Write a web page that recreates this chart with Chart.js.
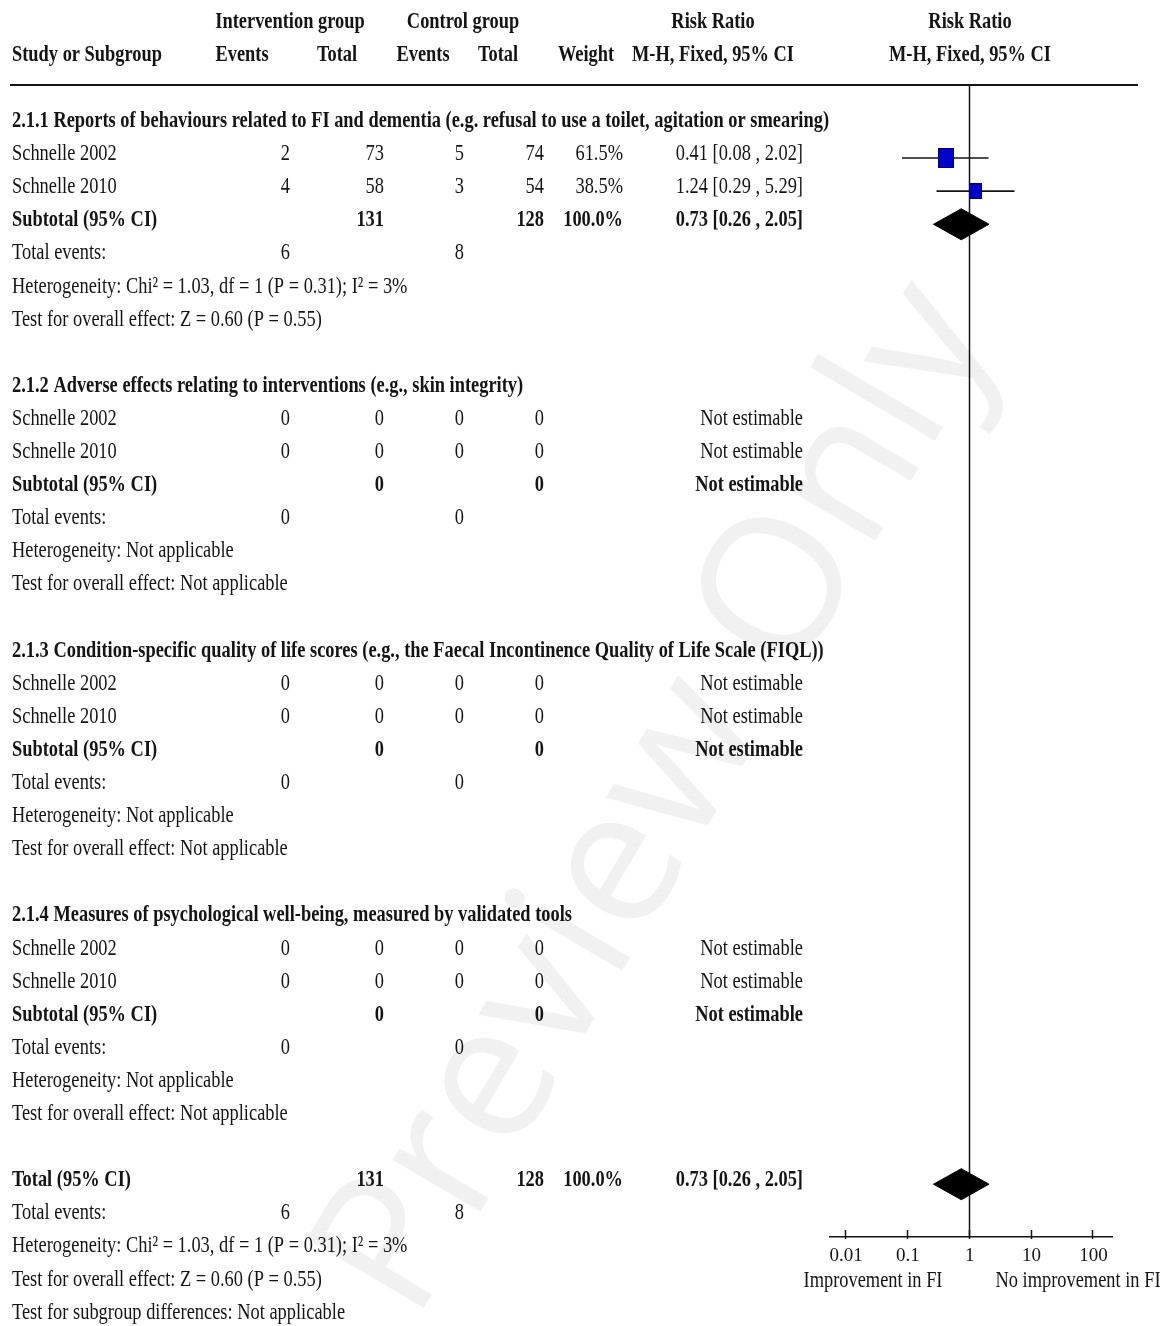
<!DOCTYPE html>
<html>
<head>
<meta charset="utf-8">
<title>Forest plot – Risk Ratio, M-H, Fixed</title>
<script src="https://cdn.jsdelivr.net/npm/chart.js@4.4.1/dist/chart.umd.min.js"></script>
<style>
  html, body { margin: 0; padding: 0; background: #ffffff; }
  canvas { display: block; }
</style>
</head>
<body>
<canvas id="forest" width="1170" height="1326"></canvas>
<script>
// ---- table content ----
const subgroupTitles = [
  '2.1.1 Reports of behaviours related to FI and dementia (e.g. refusal to use a toilet, agitation or smearing)',
  '2.1.2 Adverse effects relating to interventions (e.g., skin integrity)',
  '2.1.3 Condition-specific quality of life scores (e.g., the Faecal Incontinence Quality of Life Scale (FIQL))',
  '2.1.4 Measures of psychological well-being, measured by validated tools'
];
const studyNames = ['Schnelle 2002', 'Schnelle 2010'];

const interventionEvents = [[2, 4], [0, 0], [0, 0], [0, 0]];
const interventionTotals = [[73, 58], [0, 0], [0, 0], [0, 0]];
const controlEvents      = [[5, 3], [0, 0], [0, 0], [0, 0]];
const controlTotals      = [[74, 54], [0, 0], [0, 0], [0, 0]];

const studyWeights = [[61.5, 38.5], [null, null], [null, null], [null, null]];
const studyRR      = [[0.41, 1.24], [null, null], [null, null], [null, null]];
const studyLower   = [[0.08, 0.29], [null, null], [null, null], [null, null]];
const studyUpper   = [[2.02, 5.29], [null, null], [null, null], [null, null]];

const subtotalWeight = [100.0, null, null, null];
const subtotalRR     = [0.73, null, null, null];
const subtotalLower  = [0.26, null, null, null];
const subtotalUpper  = [2.05, null, null, null];

const heterogeneityText = [
  'Heterogeneity: Chi\u00b2 = 1.03, df = 1 (P = 0.31); I\u00b2 = 3%',
  'Heterogeneity: Not applicable',
  'Heterogeneity: Not applicable',
  'Heterogeneity: Not applicable'
];
const overallEffectText = [
  'Test for overall effect: Z = 0.60 (P = 0.55)',
  'Test for overall effect: Not applicable',
  'Test for overall effect: Not applicable',
  'Test for overall effect: Not applicable'
];

const totalWeight = [100.0];
const totalRR     = [0.73];
const totalLower  = [0.26];
const totalUpper  = [2.05];
const totalHeterogeneity = 'Heterogeneity: Chi\u00b2 = 1.03, df = 1 (P = 0.31); I\u00b2 = 3%';
const totalOverallEffect = 'Test for overall effect: Z = 0.60 (P = 0.55)';
const subgroupDifferences = 'Test for subgroup differences: Not applicable';

const axisTicks      = [0.01, 0.1, 1, 10, 100];
const axisTickLabels = ['0.01', '0.1', '1', '10', '100'];
const favoursLabels  = ['Improvement in FI', 'No improvement in FI'];

// ---- layout constants ----
const ROW0_PX = 121, ROW_STEP = 33.1, AREA_TOP = 85, AREA_BOTTOM = 1237;
const Y_MIN = (AREA_TOP - ROW0_PX) / ROW_STEP;
const Y_MAX = (AREA_BOTTOM - ROW0_PX) / ROW_STEP;
const MARK_SHIFT = 0.12;                 // marks sit a touch below the text centre
const DIAMOND_HALF = 15.5 / ROW_STEP;    // half height of the pooled diamonds
const FONT_SIZE = 23, SQUEEZE = 0.8;
const FONT_FAMILY = '"Liberation Serif", "Times New Roman", serif';
const INK = '#141414';

const sum = a => a.reduce((s, v) => s + v, 0);
const fmt2 = v => v.toFixed(2);
const ciText = (e, l, u) => `${fmt2(e)} [${fmt2(l)} , ${fmt2(u)}]`;

// blue study square, area proportional to weight
function squareFor(weight) {
  const w = Math.round(2.04 * Math.sqrt(weight));
  const h = Math.round(w * 1.25);
  const c = document.createElement('canvas');
  c.width = w; c.height = h;
  const g = c.getContext('2d');
  g.fillStyle = '#0000c8';
  g.fillRect(0, 0, w, h);
  g.strokeStyle = '#00007a';
  g.lineWidth = 1;
  g.strokeRect(0.5, 0.5, w - 1, h - 1);
  return c;
}

function diamondDataset(est, lo, hi, row) {
  return {
    type: 'line',
    data: [
      { x: lo, y: row }, { x: est, y: row - DIAMOND_HALF },
      { x: hi, y: row }, { x: est, y: row + DIAMOND_HALF }, { x: lo, y: row }
    ],
    borderColor: '#000', backgroundColor: '#000', borderWidth: 1,
    fill: 'shape', pointRadius: 0, tension: 0, order: 0
  };
}

// ---- datasets ----
const datasets = [];
subgroupTitles.forEach((_, g) => {
  const base = g * 8;
  studyNames.forEach((_, i) => {
    if (studyRR[g][i] == null) return;
    const row = base + 1 + i + MARK_SHIFT;
    datasets.push({
      type: 'scatter',
      data: [{ x: studyRR[g][i], y: row }],
      pointStyle: squareFor(studyWeights[g][i]),
      pointRadius: 3, order: 0
    });
    datasets.push({
      type: 'line',
      data: [{ x: studyLower[g][i], y: row }, { x: studyUpper[g][i], y: row }],
      borderColor: INK, borderWidth: 1.6, pointRadius: 0, fill: false, order: 2
    });
  });
  if (subtotalRR[g] != null) {
    datasets.push(diamondDataset(subtotalRR[g], subtotalLower[g], subtotalUpper[g], base + 3 + MARK_SHIFT));
  }
});
datasets.push(diamondDataset(totalRR[0], totalLower[0], totalUpper[0], 32 + MARK_SHIFT));

// ---- text helper (narrow serif look) ----
function drawText(ctx, s, x, y, align, bold) {
  ctx.save();
  ctx.font = (bold ? 'bold ' : '') + FONT_SIZE + 'px ' + FONT_FAMILY;
  ctx.textBaseline = 'middle';
  ctx.textAlign = 'left';
  ctx.fillStyle = INK;
  const w = ctx.measureText(s).width * SQUEEZE;
  const left = align === 'left' ? x : align === 'right' ? x - w : x - w / 2;
  ctx.translate(left, y);
  ctx.scale(SQUEEZE, 1);
  ctx.fillText(s, 0, 0);
  ctx.restore();
}

const COL = { ie: 290, it: 384, ce: 464, ct: 544, wt: 623, ci: 803 };

const watermarkPlugin = {
  id: 'watermark',
  beforeDraw(chart) {
    const ctx = chart.ctx;
    ctx.save();
    ctx.fillStyle = '#ffffff';
    ctx.fillRect(0, 0, chart.width, chart.height);
    ctx.translate(660, 800);
    ctx.rotate(-59.5 * Math.PI / 180);
    ctx.font = '190px "Open Sans", "DejaVu Sans", sans-serif';
    ctx.fillStyle = '#f1f1f1';
    ctx.textAlign = 'center';
    ctx.textBaseline = 'middle';
    ctx.fillText('Preview Only', 0, 0);
    ctx.restore();
  }
};

const framePlugin = {
  id: 'frame',
  beforeDatasetsDraw(chart) {
    const { ctx, chartArea, scales: { x } } = chart;
    ctx.save();
    ctx.strokeStyle = INK;
    // header rule
    ctx.lineWidth = 2;
    ctx.beginPath();
    ctx.moveTo(10, chartArea.top);
    ctx.lineTo(1138, chartArea.top);
    ctx.stroke();
    // line of no effect
    const x1 = Math.round(x.getPixelForValue(1)) - 0.5;
    ctx.lineWidth = 1.5;
    ctx.beginPath();
    ctx.moveTo(x1, chartArea.top);
    ctx.lineTo(x1, chartArea.bottom);
    ctx.stroke();
    ctx.restore();
  },
  afterDraw(chart) {
    const { ctx, chartArea, scales: { x, y } } = chart;
    const py = r => y.getPixelForValue(r);

    // upward tick marks on the risk-ratio axis
    ctx.save();
    ctx.strokeStyle = INK;
    ctx.lineWidth = 1.5;
    axisTicks.forEach(v => {
      const px = Math.round(x.getPixelForValue(v)) - 0.5;
      ctx.beginPath();
      ctx.moveTo(px, chartArea.bottom - 7);
      ctx.lineTo(px, chartArea.bottom + 2);
      ctx.stroke();
    });
    ctx.restore();

    drawText(ctx, favoursLabels[0], chartArea.left + 43, 1281, 'center', false);
    drawText(ctx, favoursLabels[1], chartArea.right - 34, 1281, 'center', false);

    // column headings
    drawText(ctx, 'Intervention group', 290, py(-3), 'center', true);
    drawText(ctx, 'Control group', 463, py(-3), 'center', true);
    drawText(ctx, 'Risk Ratio', 713, py(-3), 'center', true);
    drawText(ctx, 'Risk Ratio', 970, py(-3), 'center', true);
    drawText(ctx, 'Study or Subgroup', 12, py(-2), 'left', true);
    drawText(ctx, 'Events', 242, py(-2), 'center', true);
    drawText(ctx, 'Total', 337, py(-2), 'center', true);
    drawText(ctx, 'Events', 423, py(-2), 'center', true);
    drawText(ctx, 'Total', 498, py(-2), 'center', true);
    drawText(ctx, 'Weight', 586, py(-2), 'center', true);
    drawText(ctx, 'M-H, Fixed, 95% CI', 713, py(-2), 'center', true);
    drawText(ctx, 'M-H, Fixed, 95% CI', 970, py(-2), 'center', true);

    // subgroup blocks
    subgroupTitles.forEach((title, g) => {
      const base = g * 8;
      drawText(ctx, title, 12, py(base), 'left', true);
      studyNames.forEach((name, i) => {
        const yy = py(base + 1 + i);
        drawText(ctx, name, 12, yy, 'left', false);
        drawText(ctx, String(interventionEvents[g][i]), COL.ie, yy, 'right', false);
        drawText(ctx, String(interventionTotals[g][i]), COL.it, yy, 'right', false);
        drawText(ctx, String(controlEvents[g][i]), COL.ce, yy, 'right', false);
        drawText(ctx, String(controlTotals[g][i]), COL.ct, yy, 'right', false);
        if (studyWeights[g][i] != null) {
          drawText(ctx, studyWeights[g][i].toFixed(1) + '%', COL.wt, yy, 'right', false);
          drawText(ctx, ciText(studyRR[g][i], studyLower[g][i], studyUpper[g][i]), COL.ci, yy, 'right', false);
        } else {
          drawText(ctx, 'Not estimable', COL.ci, yy, 'right', false);
        }
      });
      const ys = py(base + 3);
      drawText(ctx, 'Subtotal (95% CI)', 12, ys, 'left', true);
      drawText(ctx, String(sum(interventionTotals[g])), COL.it, ys, 'right', true);
      drawText(ctx, String(sum(controlTotals[g])), COL.ct, ys, 'right', true);
      if (subtotalRR[g] != null) {
        drawText(ctx, subtotalWeight[g].toFixed(1) + '%', COL.wt, ys, 'right', true);
        drawText(ctx, ciText(subtotalRR[g], subtotalLower[g], subtotalUpper[g]), COL.ci, ys, 'right', true);
      } else {
        drawText(ctx, 'Not estimable', COL.ci, ys, 'right', true);
      }
      const ye = py(base + 4);
      drawText(ctx, 'Total events:', 12, ye, 'left', false);
      drawText(ctx, String(sum(interventionEvents[g])), COL.ie, ye, 'right', false);
      drawText(ctx, String(sum(controlEvents[g])), COL.ce, ye, 'right', false);
      drawText(ctx, heterogeneityText[g], 12, py(base + 5), 'left', false);
      drawText(ctx, overallEffectText[g], 12, py(base + 6), 'left', false);
    });

    // overall block
    const yt = py(32);
    drawText(ctx, 'Total (95% CI)', 12, yt, 'left', true);
    drawText(ctx, String(sum(interventionTotals.flat())), COL.it, yt, 'right', true);
    drawText(ctx, String(sum(controlTotals.flat())), COL.ct, yt, 'right', true);
    drawText(ctx, totalWeight[0].toFixed(1) + '%', COL.wt, yt, 'right', true);
    drawText(ctx, ciText(totalRR[0], totalLower[0], totalUpper[0]), COL.ci, yt, 'right', true);
    const yte = py(33);
    drawText(ctx, 'Total events:', 12, yte, 'left', false);
    drawText(ctx, String(sum(interventionEvents.flat())), COL.ie, yte, 'right', false);
    drawText(ctx, String(sum(controlEvents.flat())), COL.ce, yte, 'right', false);
    drawText(ctx, totalHeterogeneity, 12, py(34), 'left', false);
    drawText(ctx, totalOverallEffect, 12, py(35), 'left', false);
    drawText(ctx, subgroupDifferences, 12, py(36), 'left', false);
  }
};

new Chart(document.getElementById('forest'), {
  type: 'scatter',
  data: { datasets },
  options: {
    responsive: false,
    animation: false,
    devicePixelRatio: 1,
    layout: { padding: { left: 830, right: 58, top: AREA_TOP, bottom: 0 } },
    plugins: { legend: { display: false }, tooltip: { enabled: false } },
    elements: { line: { tension: 0, borderJoinStyle: 'miter' } },
    scales: {
      x: {
        type: 'logarithmic',
        position: 'bottom',
        min: 0.0055,
        max: 200,
        afterBuildTicks: s => { s.ticks = axisTicks.map(v => ({ value: v })); },
        afterFit: s => { s.height = 1326 - AREA_BOTTOM; },
        grid: { display: false, drawTicks: false },
        border: { display: true, color: INK, width: 1.5 },
        ticks: {
          autoSkip: false, maxRotation: 0, padding: 8, color: INK,
          font: { family: FONT_FAMILY, size: 19 },
          callback: (v, i) => axisTickLabels[i]
        }
      },
      y: { type: 'linear', reverse: true, min: Y_MIN, max: Y_MAX, display: false }
    }
  },
  plugins: [watermarkPlugin, framePlugin]
});
</script>
</body>
</html>
